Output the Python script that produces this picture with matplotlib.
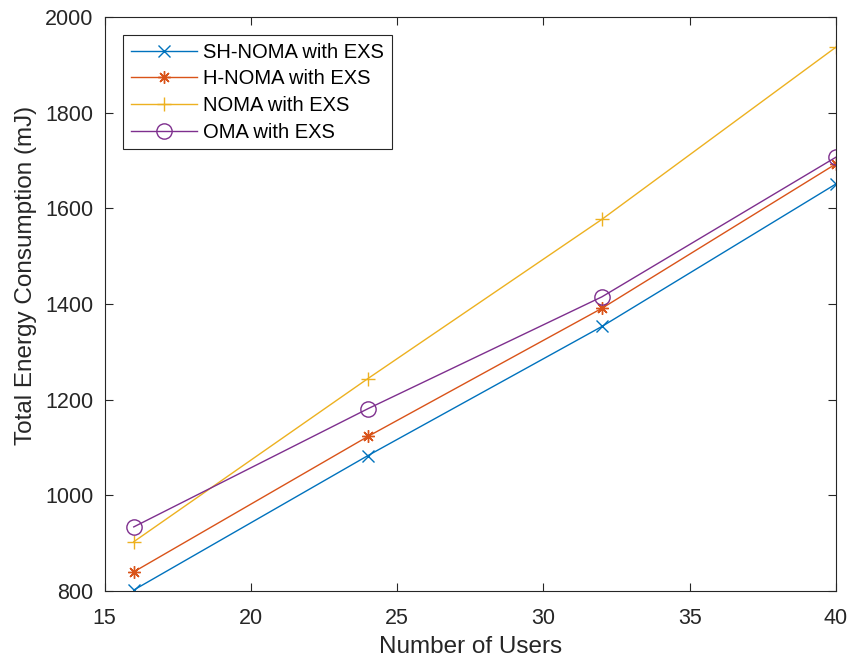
import matplotlib
matplotlib.use("Agg")
import matplotlib.pyplot as plt

# data
users = [16, 24, 32, 40]
sh_noma = [802, 1083, 1353, 1651]
h_noma = [840, 1123, 1391, 1693]
noma = [903, 1244, 1577, 1937]
oma = [934, 1181, 1415, 1707]

labels = ['SH-NOMA with EXS', 'H-NOMA with EXS', 'NOMA with EXS', 'OMA with EXS']
colors = ['#0072BD', '#D95319', '#EDB120', '#7E2F8E']
# matlab-ish markers: x, asterisk (8 spokes), plus, circle
markers = ['x', (8, 2, 0), '+', 'o']
sizes = [9, 9, 10, 11]

plt.rcParams['font.family'] = ['Liberation Sans', 'DejaVu Sans']

fig = plt.figure(figsize=(8.47, 6.64), dpi=100)
ax = fig.add_axes([104.5 / 847, 1 - 591 / 664, 731.5 / 847, 574 / 664])

for ys, lab, c, m, ms in zip([sh_noma, h_noma, noma, oma], labels, colors, markers, sizes):
    ax.plot(users, ys, color=c, marker=m, markersize=ms, linewidth=1.0,
            markerfacecolor='none', markeredgewidth=1.0, label=lab)

ax.set_xlim(15, 40)
ax.set_ylim(800, 2000)
ax.set_xticks([15, 20, 25, 30, 35, 40])
ax.set_yticks(range(800, 2001, 200))
ax.tick_params(direction='in', length=6, labelsize=15.5, colors='#262626',
               top=True, right=True)
ax.tick_params(axis='y', pad=8)
ax.tick_params(axis='x', pad=12)
for s in ax.spines.values():
    s.set_color('#262626')
    s.set_linewidth(0.8)

ax.set_xlabel('Number of Users', fontsize=17.5, color='#262626', labelpad=5)
ax.set_ylabel('Total Energy Consumption (mJ)', fontsize=17.5, color='#262626', labelpad=6)
ax.yaxis.label.set_y(0.549)

leg = ax.legend(loc='upper left', bbox_to_anchor=(0.0253, 0.9685), fontsize=14.5,
                fancybox=False, edgecolor='#262626', framealpha=1,
                handlelength=3.3, borderaxespad=0, labelspacing=0.38,
                borderpad=0.38, handletextpad=0.3)
leg.get_frame().set_linewidth(0.8)

fig.savefig('out.png', dpi=100)
